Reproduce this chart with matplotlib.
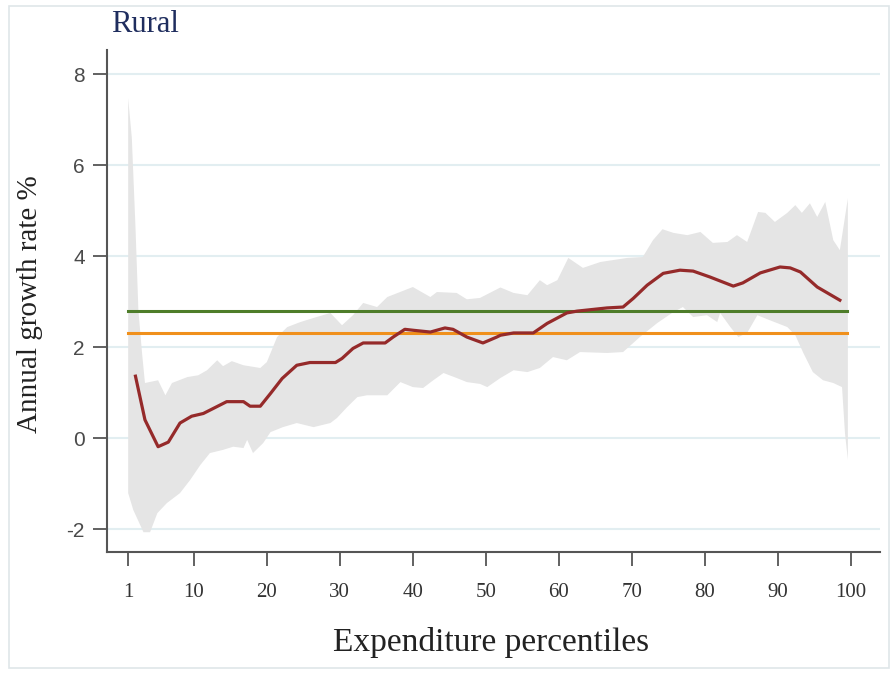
import matplotlib
matplotlib.use("Agg")
import matplotlib.pyplot as plt
from matplotlib.patches import Rectangle
import numpy as np

plt.rcParams["axes.unicode_minus"] = False

# ---- data ----
line_x = [2.0, 3.3, 5.1, 6.5, 8.1, 9.7, 11.3, 14.5, 16.8, 17.7, 19.1, 20.5, 22.1, 24.1, 25.9,
          29.4, 30.3, 31.8, 33.2, 36.2, 37.3, 38.9, 40.0, 42.4, 44.4, 45.5, 47.4, 49.6, 51.5,
          52.0, 53.8, 56.5, 58.4, 61.1, 62.5, 66.6, 68.8, 70.2, 72.1, 74.3, 76.6, 78.4, 80.7,
          83.9, 85.2, 87.6, 90.3, 91.7, 93.1, 95.4, 98.5]
line_y = [1.36, 0.40, -0.19, -0.09, 0.33, 0.48, 0.54, 0.80, 0.80, 0.70, 0.70, 0.98, 1.31, 1.60, 1.66,
          1.66, 1.75, 1.97, 2.09, 2.09, 2.22, 2.39, 2.37, 2.33, 2.42, 2.39, 2.22, 2.09, 2.22,
          2.26, 2.31, 2.31, 2.52, 2.75, 2.79, 2.86, 2.88, 3.07, 3.36, 3.62, 3.69, 3.67, 3.54,
          3.34, 3.41, 3.63, 3.76, 3.74, 3.65, 3.32, 3.03]

upper_x = [1.0, 1.5, 2.0, 2.4, 2.9, 3.3, 5.1, 6.1, 7.0, 9.1, 10.6, 11.8, 13.2, 14.0, 15.2, 16.8,
           19.1, 20.0, 21.4, 22.8, 24.6, 26.4, 28.7, 30.3, 31.8, 33.2, 35.1, 36.5, 40.0, 42.4,
           43.3, 46.0, 47.4, 49.2, 52.0, 53.8, 55.7, 57.4, 58.4, 59.8, 61.3, 63.3, 65.7, 69.4,
           71.5, 72.9, 74.2, 75.7, 77.6, 79.4, 81.1, 83.1, 84.4, 85.8, 87.3, 88.3, 89.6, 91.3,
           92.4, 93.3, 94.4, 95.4, 96.5, 97.6, 98.5, 99.6]
upper_y = [7.47, 6.60, 4.64, 2.81, 1.87, 1.21, 1.27, 0.94, 1.21, 1.34, 1.38, 1.49, 1.71, 1.58, 1.69, 1.60,
           1.54, 1.67, 2.22, 2.44, 2.55, 2.64, 2.75, 2.48, 2.70, 2.97, 2.88, 3.10, 3.32, 3.10,
           3.21, 3.19, 3.05, 3.08, 3.31, 3.19, 3.14, 3.47, 3.36, 3.47, 3.96, 3.74, 3.87, 3.96,
           3.98, 4.35, 4.59, 4.51, 4.46, 4.53, 4.29, 4.31, 4.46, 4.31, 4.97, 4.95, 4.75, 4.95,
           5.12, 4.95, 5.16, 4.86, 5.19, 4.35, 4.13, 5.27]

lower_x = [1.0, 1.7, 3.1, 4.0, 5.0, 6.3, 8.1, 9.5, 10.9, 12.2, 14.0, 15.4, 16.8, 17.3, 18.1, 19.5,
           20.5, 22.2, 24.1, 26.4, 28.7, 29.6, 31.0, 32.4, 33.7, 36.5, 38.3, 40.0, 41.4, 42.8,
           44.2, 46.0, 47.4, 49.2, 50.2, 52.0, 53.8, 55.7, 57.4, 59.2, 61.1, 62.9, 66.6, 68.8,
           71.1, 73.5, 75.7, 77.0, 78.4, 80.3, 81.7, 82.1, 83.5, 84.6, 85.8, 87.2, 88.9, 91.3,
           92.4, 93.5, 94.8, 96.2, 97.6, 98.8, 99.2, 99.6]
lower_y = [-1.21, -1.58, -2.07, -2.07, -1.65, -1.43, -1.21, -0.92, -0.59, -0.33, -0.26, -0.19, -0.22, -0.04, -0.33, -0.11,
           0.13, 0.24, 0.33, 0.24, 0.33, 0.44, 0.68, 0.90, 0.94, 0.94, 1.23, 1.12, 1.10, 1.27,
           1.43, 1.32, 1.23, 1.19, 1.12, 1.32, 1.49, 1.45, 1.54, 1.78, 1.71, 1.89, 1.87, 1.89,
           2.22, 2.53, 2.77, 2.88, 2.66, 2.70, 2.55, 2.75, 2.44, 2.22, 2.31, 2.70, 2.59, 2.44,
           2.26, 1.87, 1.45, 1.27, 1.21, 1.12, 0.11, -0.48]

green_level = 2.8
orange_level = 2.3
ref_span = [1, 99.5]

x_ticks = [1, 10, 20, 30, 40, 50, 60, 70, 80, 90, 100]
y_ticks = [-2, 0, 2, 4, 6, 8]

title = "Rural"
x_label = "Expenditure percentiles"
y_label = "Annual growth rate %"

# ---- figure ----
fig = plt.figure(figsize=(8.92, 6.75), dpi=100)
fig.patches.append(Rectangle((9/892, 7/675), 880/892, 662/675, transform=fig.transFigure,
                             fill=False, edgecolor="#dfe6e9", linewidth=1.2))
ax = fig.add_axes([107/892, 123/675, 773/892, 502/675])

ux = np.array(upper_x); uy = np.array(upper_y)
lx = np.array(lower_x); ly = np.array(lower_y)
poly_x = np.concatenate([ux, lx[::-1]])
poly_y = np.concatenate([uy, ly[::-1]])
ax.fill(poly_x, poly_y, color="#e5e5e5", linewidth=0, zorder=2)

for yt in y_ticks:
    ax.axhline(yt, color="#e2eef1", linewidth=1.5, zorder=1)

ax.plot(ref_span, [green_level] * 2, color="#4e7d2a", linewidth=2.2, zorder=3)
ax.plot(ref_span, [orange_level] * 2, color="#f0901c", linewidth=2.2, zorder=3)
ax.plot(line_x, line_y, color="#952a2a", linewidth=2.3, zorder=4)

ax.set_xlim(-1.9, 104)
ax.set_ylim(-2.505, 8.53)
ax.set_xticks(x_ticks)
ax.set_yticks(y_ticks)

for s in ["top", "right"]:
    ax.spines[s].set_visible(False)
for s in ["left", "bottom"]:
    ax.spines[s].set_color("#555555")
    ax.spines[s].set_linewidth(1.5)

ax.tick_params(axis="y", length=10, width=1.3, color="#555555", labelcolor="#4a4a4a",
               labelsize=15, pad=6)
ax.tick_params(axis="x", length=10, width=1.3, color="#555555", labelcolor="#333333",
               labelsize=15, pad=12)
for lab in ax.get_xticklabels():
    lab.set_family("Liberation Serif")
for lab in ax.get_yticklabels():
    lab.set_family("Liberation Sans")

fig.text(491/892, 1 - 643/675, x_label, family="Liberation Serif", fontsize=24,
         color="#222222", ha="center", va="center")
fig.text(30/892, 1 - 304/675, y_label, family="Liberation Serif", fontsize=21,
         color="#222222", ha="center", va="center", rotation=90)
fig.text(111/892, 1 - 25/675, title, family="Liberation Serif", fontsize=22, color="#1f2d5e",
         va="center", ha="left")

fig.savefig("out.png", dpi=100, facecolor="white")
